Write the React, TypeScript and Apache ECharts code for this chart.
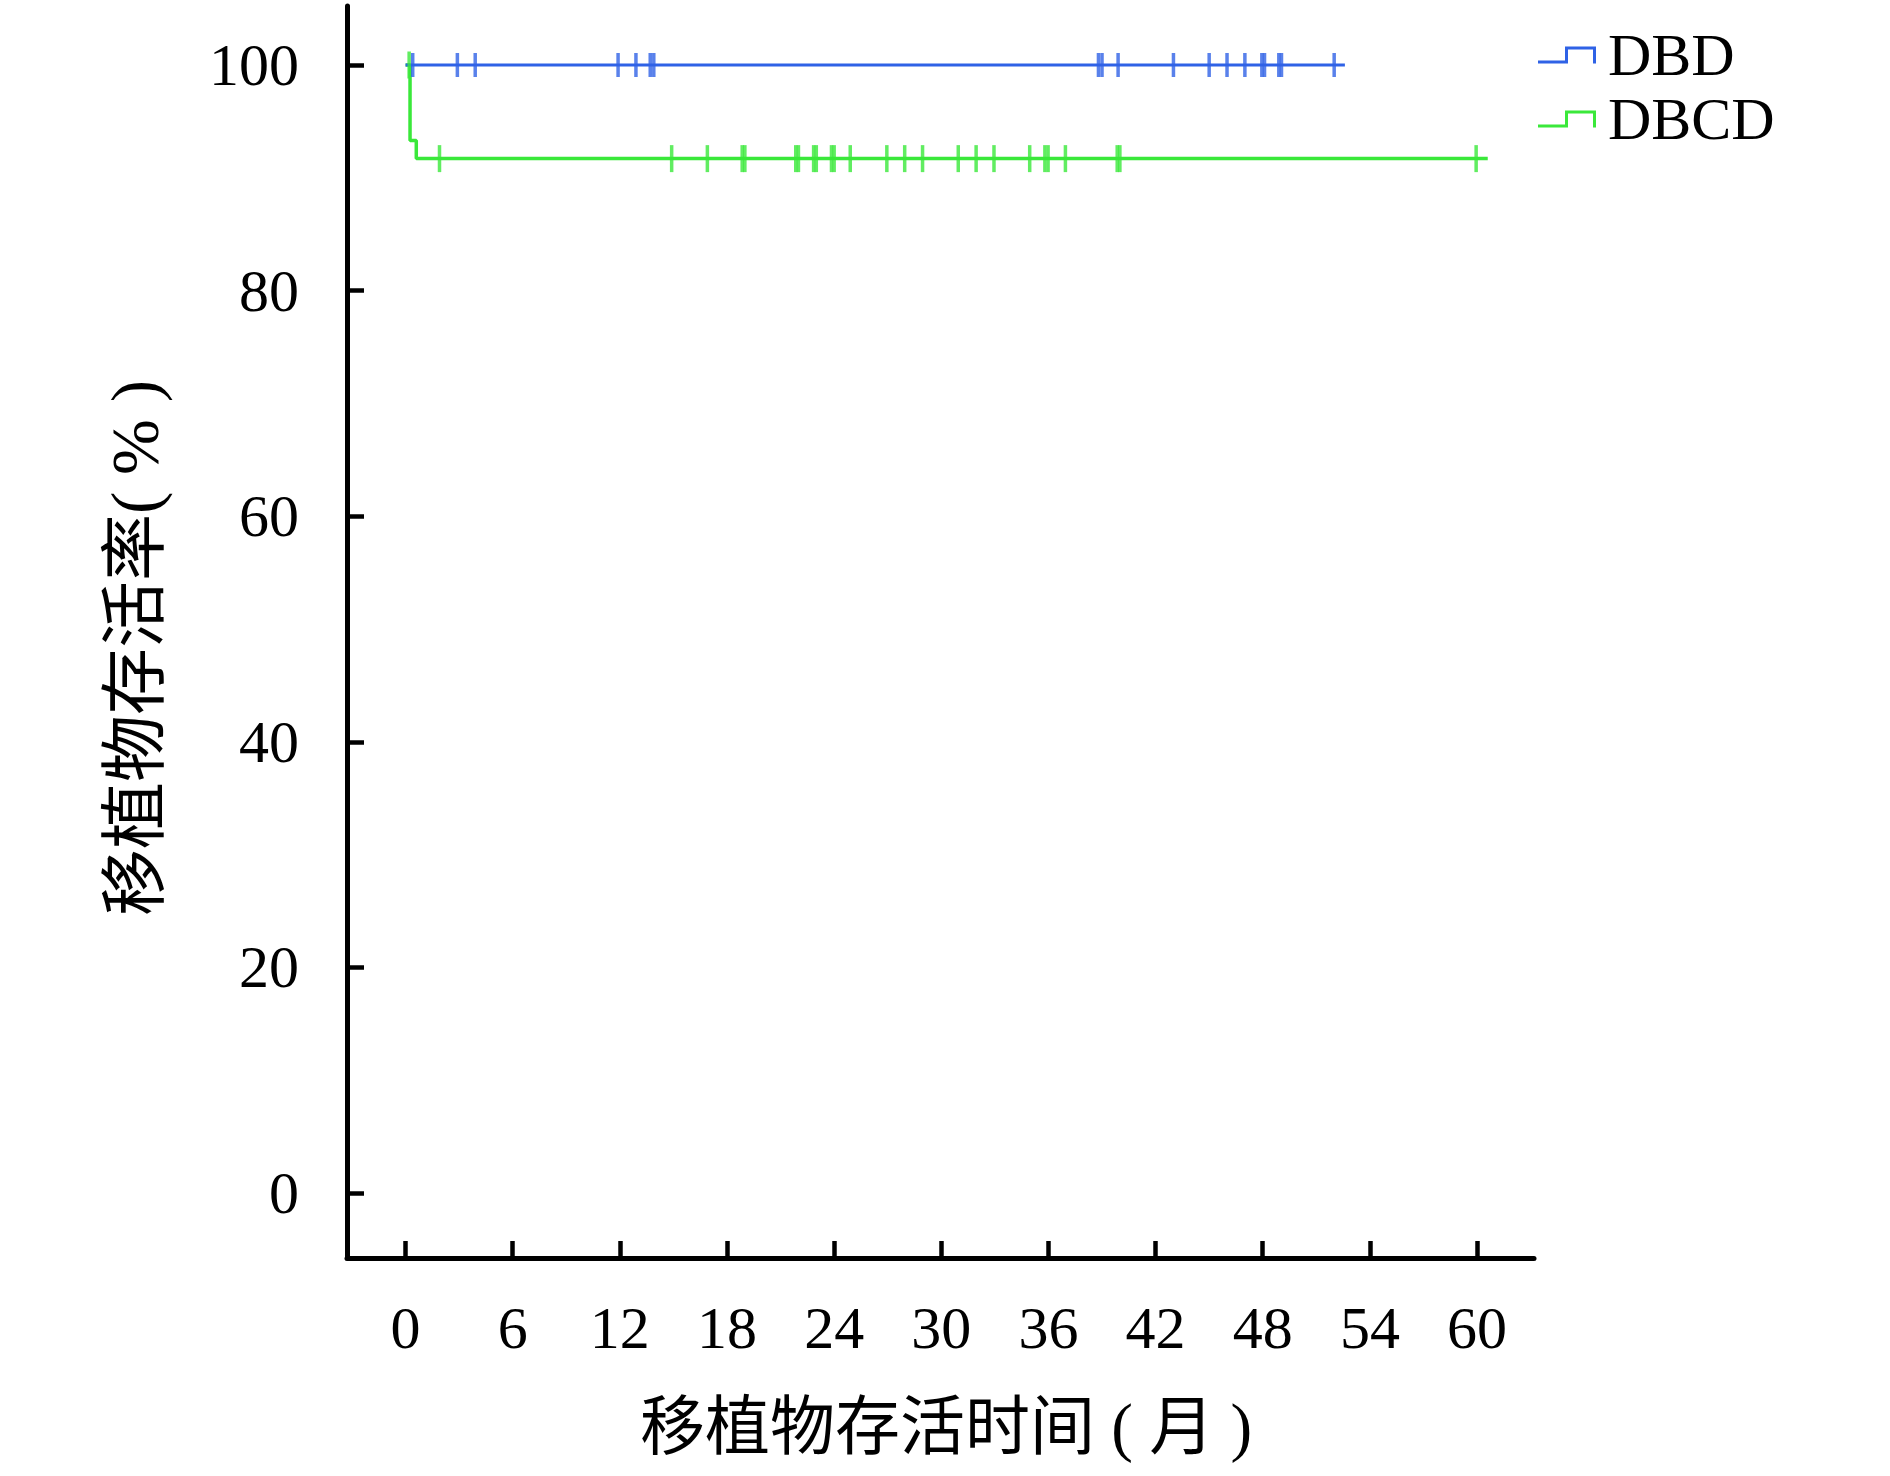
import React, { useEffect, useRef } from "react";
import * as echarts from "echarts";

// ---- Data ----
const X_TICKS = [0, 6, 12, 18, 24, 30, 36, 42, 48, 54, 60];
const Y_TICKS = [0, 20, 40, 60, 80, 100];

const SERIES_NAMES = ["DBD", "DBCD"];

// Kaplan-Meier step curves: time (months) and survival (%)
const dbdTimes = [0, 52.6];
const dbdSurv = [100, 100];
const dbcdTimes = [0, 0.25, 0.6, 60.6];
const dbcdSurv = [100, 93.3, 91.7, 91.7];

// Censored observations (months)
const dbdCensor = [
  0.4, 2.9, 3.9, 11.9, 12.9, 13.7, 13.9, 38.8, 39.0, 39.9, 43.0, 45.0, 46.0,
  47.0, 47.95, 48.1, 48.9, 49.05, 52.0,
];
const dbcdCensor = [
  0.2, 1.9, 14.9, 16.9, 18.85, 19.0, 21.85, 22.0, 22.85, 23.0, 23.85, 24.0,
  24.9, 26.95, 27.95, 28.95, 30.95, 31.95, 32.95, 34.95, 35.8, 35.98, 36.95,
  39.85, 40.0, 59.95,
];

const BLUE = "#2f62e6";
const GREEN = "#3ae83a";
const SERIF = "'Liberation Serif', 'Times New Roman', serif";
const CJK = "'Liberation Serif', 'Noto Sans CJK SC', sans-serif";

function survAt(times: number[], surv: number[], t: number): number {
  let v = surv[0];
  for (let i = 0; i < times.length; i++) {
    if (times[i] <= t) v = surv[i];
  }
  return v;
}

const curve = (times: number[], surv: number[]) =>
  times.map((t, i) => [t, surv[i]]);
const marks = (cens: number[], times: number[], surv: number[]) =>
  cens.map((t) => [t, survAt(times, surv, t)]);

const STEP_ICON =
  "path://M0,14L27,14L27,0L58,0L58,17L55,17L55,3L30,3L30,17L0,17Z";

export default function App() {
  const ref = useRef<HTMLDivElement>(null);

  useEffect(() => {
    if (!ref.current) return;
    const chart = echarts.init(ref.current, null, { renderer: "svg" });
    const option = {
      animation: false,
      backgroundColor: "#ffffff",
      grid: { left: 347, top: 6, width: 1187, height: 1252 },
      legend: {
        data: SERIES_NAMES,
        orient: "vertical",
        left: 1533,
        top: 20,
        itemWidth: 58,
        itemHeight: 17,
        itemGap: 4,
        icon: STEP_ICON,
        itemStyle: { borderWidth: 0 },
        textStyle: {
          fontFamily: SERIF,
          fontSize: 60,
          lineHeight: 60,
          color: "#000",
          padding: [0, 0, 0, 7],
        },
      },
      xAxis: {
        type: "value",
        min: -3.28,
        max: 63.19,
        name: "移植物存活时间 ( 月 )",
        nameLocation: "middle",
        nameGap: 136,
        nameTextStyle: {
          fontFamily: CJK,
          fontSize: 65,
          color: "#000",
          lineHeight: 66,
          padding: [0, 0, 0, 11],
        },
        axisLine: { show: true, onZero: false, lineStyle: { color: "#000", width: 5 } },
        axisTick: {
          show: true,
          inside: true,
          length: 17,
          customValues: X_TICKS,
          lineStyle: { color: "#000", width: 4.5 },
        },
        axisLabel: {
          customValues: X_TICKS,
          margin: 40,
          fontFamily: SERIF,
          fontSize: 60,
          lineHeight: 60,
          color: "#000",
        },
        splitLine: { show: false },
      },
      yAxis: {
        type: "value",
        min: -5.76,
        max: 105.23,
        name: "移植物存活率( % )",
        nameLocation: "middle",
        nameGap: 179,
        nameTextStyle: {
          fontFamily: CJK,
          fontSize: 67,
          color: "#000",
          lineHeight: 66,
          padding: [0, 32, 0, 0],
        },
        axisLine: { show: true, onZero: false, lineStyle: { color: "#000", width: 5 } },
        axisTick: {
          show: true,
          inside: true,
          length: 17,
          customValues: Y_TICKS,
          lineStyle: { color: "#000", width: 4.5 },
        },
        axisLabel: {
          customValues: Y_TICKS,
          margin: 48,
          fontFamily: SERIF,
          fontSize: 60,
          lineHeight: 60,
          color: "#000",
        },
        splitLine: { show: false },
      },
      series: [
        {
          name: "DBD",
          type: "line",
          step: "end",
          showSymbol: false,
          data: curve(dbdTimes, dbdSurv),
          itemStyle: { color: BLUE },
          lineStyle: { color: BLUE, width: 3 },
          z: 3,
        },
        {
          name: "DBCD",
          type: "line",
          step: "end",
          showSymbol: false,
          data: curve(dbcdTimes, dbcdSurv),
          itemStyle: { color: GREEN },
          lineStyle: { color: GREEN, width: 3.5 },
          z: 2,
        },
        {
          name: "DBD censored",
          type: "scatter",
          symbol: "rect",
          symbolSize: [3.5, 24],
          data: marks(dbdCensor, dbdTimes, dbdSurv),
          itemStyle: { color: BLUE },
          z: 4,
        },
        {
          name: "DBCD censored",
          type: "scatter",
          symbol: "rect",
          symbolSize: [3.5, 27],
          data: marks(dbcdCensor, dbcdTimes, dbcdSurv),
          itemStyle: { color: GREEN },
          z: 4,
        },
      ],
    };
    chart.setOption(option as any);
    return () => chart.dispose();
  }, []);

  return (
    <div
      ref={ref}
      style={{
        position: "absolute",
        left: 0,
        top: 0,
        width: 1890,
        height: 1476,
        background: "#fff",
      }}
    />
  );
}
